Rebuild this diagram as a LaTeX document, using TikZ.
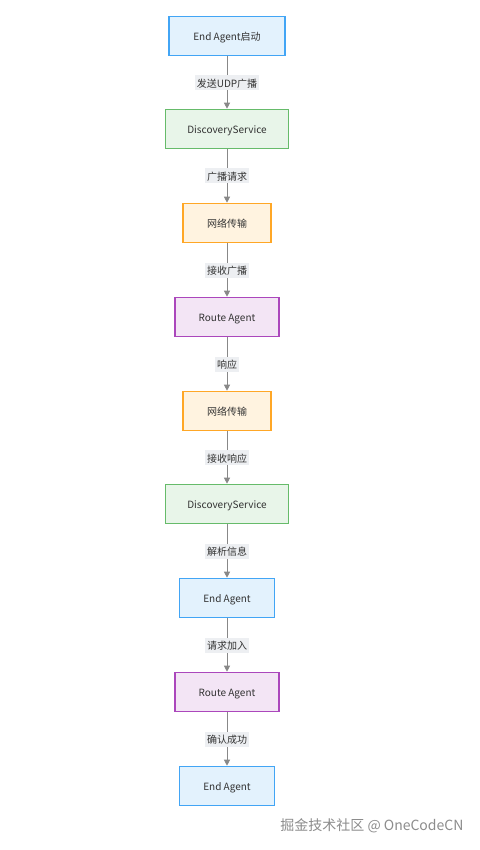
\documentclass[tikz,border=0pt]{standalone}
\usepackage{fontspec}
\setmainfont{Noto Sans CJK SC}
\usetikzlibrary{arrows.meta}
\definecolor{bfill}{HTML}{E3F2FD}\definecolor{bdraw}{HTML}{42A5F5}
\definecolor{gfill}{HTML}{E8F5E9}\definecolor{gdraw}{HTML}{66BB6A}
\definecolor{ofill}{HTML}{FFF3E0}\definecolor{odraw}{HTML}{FFA726}
\definecolor{pfill}{HTML}{F3E5F5}\definecolor{pdraw}{HTML}{AB47BC}
\definecolor{lnk}{HTML}{888888}
\definecolor{lblbg}{HTML}{EDEFF2}
\definecolor{txt}{HTML}{333333}
\tikzset{
  box/.style={draw, line width=1.6pt, minimum height=39pt, inner sep=0pt, text height=9.5pt, text depth=0pt, font=\fontsize{10}{11}\selectfont, text=txt},
  bluebox/.style={box, fill=bfill, draw=bdraw},
  greenbox/.style={box, fill=gfill, draw=gdraw},
  orangebox/.style={box, fill=ofill, draw=odraw},
  purplebox/.style={box, fill=pfill, draw=pdraw},
  link/.style={draw=lnk, line width=0.8pt, -{Triangle[length=6pt,width=6pt]}},
  lbl/.style={fill=lblbg, inner xsep=2pt, inner ysep=0pt, minimum height=15pt, text height=9.5pt, text depth=0pt, font=\fontsize{10}{11}\selectfont, text=txt},
}
\begin{document}
\begin{tikzpicture}[x=1pt,y=-1pt]
\useasboundingbox[fill=white] (0,0) rectangle (479,850);
\node[bluebox, minimum width=116pt] (n1) at (227,36) {End Agent启动};
\node[greenbox, minimum width=123pt] (n2) at (227,129) {DiscoveryService};
\node[orangebox, minimum width=88pt] (n3) at (227,223) {网络传输};
\node[purplebox, minimum width=104pt] (n4) at (227,317) {Route Agent};
\node[orangebox, minimum width=88pt] (n5) at (227,411) {网络传输};
\node[greenbox, minimum width=123pt] (n6) at (227,504) {DiscoveryService};
\node[bluebox, minimum width=95pt] (n7) at (227,598) {End Agent};
\node[purplebox, minimum width=104pt] (n8) at (227,692) {Route Agent};
\node[bluebox, minimum width=95pt] (n9) at (227,786) {End Agent};
\draw[link] (n1) -- node[lbl]{发送UDP广播} (n2);
\draw[link] (n2) -- node[lbl]{广播请求} (n3);
\draw[link] (n3) -- node[lbl]{接收广播} (n4);
\draw[link] (n4) -- node[lbl]{响应} (n5);
\draw[link] (n5) -- node[lbl]{接收响应} (n6);
\draw[link] (n6) -- node[lbl]{解析信息} (n7);
\draw[link] (n7) -- node[lbl]{请求加入} (n8);
\draw[link] (n8) -- node[lbl]{确认成功} (n9);
\node[font=\fontsize{14}{16}\selectfont, text=black!45, anchor=east] (wm) at (467,826) {掘金技术社区 @ OneCodeCN};
\end{tikzpicture}
\end{document}
